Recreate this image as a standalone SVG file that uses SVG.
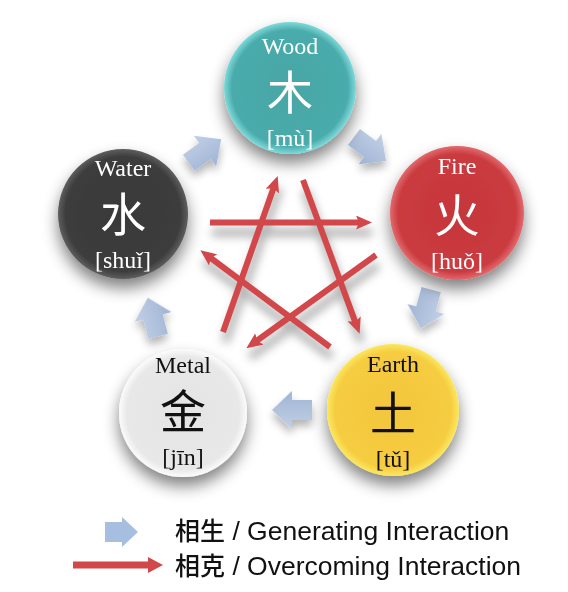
<svg xmlns="http://www.w3.org/2000/svg" width="568" height="592" viewBox="0 0 568 592">
<defs>
<style>
.lbl{font-family:"Liberation Serif","Times New Roman",serif;font-size:24px;text-anchor:middle}
.han{font-family:"Noto Sans CJK TC","Noto Sans CJK SC",sans-serif;font-size:46px;text-anchor:middle}
.py{font-family:"Liberation Serif","Times New Roman",serif;font-size:24px;text-anchor:middle}
.w{fill:#ffffff}
.k{fill:#111111}
.gen{fill:url(#genGrad)}
.ovc{stroke:#d2474a;stroke-width:6;fill:none;marker-end:url(#redHead)}
.ovcShadow{stroke:#7a7a7a;stroke-width:8;fill:none}
.leg{font-family:"Liberation Sans",Arial,"Noto Sans CJK TC",sans-serif;font-size:26.5px;fill:#111}
.legHan{font-family:"Noto Sans CJK TC","Noto Sans CJK SC",sans-serif;font-weight:500;font-size:25px}
</style>
<filter id="shadow" x="-40%" y="-40%" width="180%" height="190%">
<feGaussianBlur in="SourceAlpha" stdDeviation="8"/>
<feOffset dx="0" dy="9" result="b"/>
<feComponentTransfer><feFuncA type="linear" slope="0.5"/></feComponentTransfer>
<feMerge><feMergeNode/><feMergeNode in="SourceGraphic"/></feMerge>
</filter>
<filter id="smallShadow" x="-50%" y="-50%" width="200%" height="200%">
<feGaussianBlur in="SourceAlpha" stdDeviation="4"/>
<feOffset dx="0" dy="6" result="b"/>
<feComponentTransfer><feFuncA type="linear" slope="0.3"/></feComponentTransfer>
<feMerge><feMergeNode/><feMergeNode in="SourceGraphic"/></feMerge>
</filter>
<filter id="blur" x="-20%" y="-20%" width="140%" height="140%">
<feGaussianBlur stdDeviation="5"/>
</filter>
<linearGradient id="genGrad" x1="0" y1="0" x2="0" y2="1">
<stop offset="0" stop-color="#c2d0e6"/>
<stop offset="1" stop-color="#9fb4d4"/>
</linearGradient>
<radialGradient id="gWood"><stop offset="0" stop-color="#47a6a5"/><stop offset="0.88" stop-color="#4aabab"/><stop offset="1" stop-color="#7fdada"/></radialGradient>
<radialGradient id="gWater"><stop offset="0" stop-color="#393939"/><stop offset="0.88" stop-color="#3c3c3c"/><stop offset="1" stop-color="#5e5e5e"/></radialGradient>
<radialGradient id="gFire"><stop offset="0" stop-color="#c5363a"/><stop offset="0.88" stop-color="#ca3b40"/><stop offset="1" stop-color="#e26a6e"/></radialGradient>
<radialGradient id="gMetal"><stop offset="0" stop-color="#e4e4e4"/><stop offset="0.88" stop-color="#e8e8e8"/><stop offset="1" stop-color="#fbfbfb"/></radialGradient>
<radialGradient id="gEarth"><stop offset="0" stop-color="#f3c63c"/><stop offset="0.88" stop-color="#f6cc40"/><stop offset="1" stop-color="#fbe860"/></radialGradient>
<marker id="redHead" viewBox="0 0 16 14" markerWidth="16" markerHeight="14" refX="4" refY="7" orient="auto" markerUnits="userSpaceOnUse">
<path d="M0,0 L16,7 L0,14 L3,7 z" fill="#d2474a"/>
</marker>
<path id="blockArrow" d="M-20,-10 L0,-10 L0,-19 L20,0 L0,19 L0,10 L-20,10 z"/>
</defs>

<rect width="568" height="592" fill="#ffffff"/>

<g id="connectors">
<g id="overcoming-shadow" filter="url(#blur)" opacity="0.6" transform="translate(2,10)">
<line class="ovcShadow" x1="223" y1="332" x2="277" y2="178"/>
<line class="ovcShadow" x1="303" y1="180" x2="359" y2="332"/>
<line class="ovcShadow" x1="210" y1="222.5" x2="370" y2="222.5"/>
<line class="ovcShadow" x1="376" y1="255" x2="248" y2="347"/>
<line class="ovcShadow" x1="330" y1="347" x2="202" y2="251.5"/>
</g>
<g id="overcoming">
<line class="ovc" x1="223" y1="332" x2="273.7" y2="187.4"/>
<line class="ovc" x1="303" y1="180" x2="355.5" y2="322.6"/>
<line class="ovc" x1="210" y1="222.5" x2="360" y2="222.5"/>
<line class="ovc" x1="376" y1="255" x2="256.1" y2="341.2"/>
<line class="ovc" x1="330" y1="347" x2="210" y2="257.5"/>
</g>
<g id="generating" filter="url(#smallShadow)">
<use href="#blockArrow" class="gen" transform="translate(205,151) rotate(-36)"/>
<use href="#blockArrow" class="gen" transform="translate(370,149) rotate(37)"/>
<use href="#blockArrow" class="gen" transform="translate(426,309) rotate(105)"/>
<use href="#blockArrow" class="gen" transform="translate(292,410) rotate(180)"/>
<use href="#blockArrow" class="gen" transform="translate(153,317) rotate(-105)"/>
</g>
</g>

<g id="node-wood">
<circle cx="290" cy="88" r="66" fill="url(#gWood)" filter="url(#shadow)"/>
<text class="lbl w" x="290" y="54">Wood</text>
<text class="han w" x="290" y="109">木</text>
<text class="py w" x="290" y="146">[mù]</text>
</g>

<g id="node-fire">
<circle cx="457" cy="213" r="67" fill="url(#gFire)" filter="url(#shadow)"/>
<text class="lbl w" x="457" y="174">Fire</text>
<text class="han w" x="457" y="232">火</text>
<text class="py w" x="457" y="269">[huǒ]</text>
</g>

<g id="node-earth">
<circle cx="393" cy="410" r="66" fill="url(#gEarth)" filter="url(#shadow)"/>
<text class="lbl k" x="393" y="372">Earth</text>
<text class="han k" x="393" y="430">土</text>
<text class="py k" x="393" y="467">[tǔ]</text>
</g>

<g id="node-metal">
<circle cx="183" cy="413" r="64" fill="url(#gMetal)" filter="url(#shadow)"/>
<text class="lbl k" x="183" y="373">Metal</text>
<text class="han k" x="183" y="428">金</text>
<text class="py k" x="183" y="465">[jīn]</text>
</g>

<g id="node-water">
<circle cx="123" cy="214" r="65" fill="url(#gWater)" filter="url(#shadow)"/>
<text class="lbl w" x="123" y="176">Water</text>
<text class="han w" x="123" y="231">水</text>
<text class="py w" x="123" y="268">[shuǐ]</text>
</g>

<g id="legend">
<path d="M105,522 L122,522 L122,517 L138,532 L122,547 L122,542 L105,542 z" fill="#a6bfe0"/>
<line x1="88" y1="578" x2="168" y2="578" stroke="#888" stroke-width="8" filter="url(#blur)" opacity="0.6"/>
<line x1="73" y1="565" x2="150" y2="565" stroke="#d2474a" stroke-width="7"/>
<path d="M148,557 L163,565 L148,573 z" fill="#d2474a"/>
<text class="leg" x="175" y="540"><tspan class="legHan">相生</tspan> / Generating Interaction</text>
<text class="leg" x="175" y="575"><tspan class="legHan">相克</tspan> / Overcoming Interaction</text>
</g>
</svg>
